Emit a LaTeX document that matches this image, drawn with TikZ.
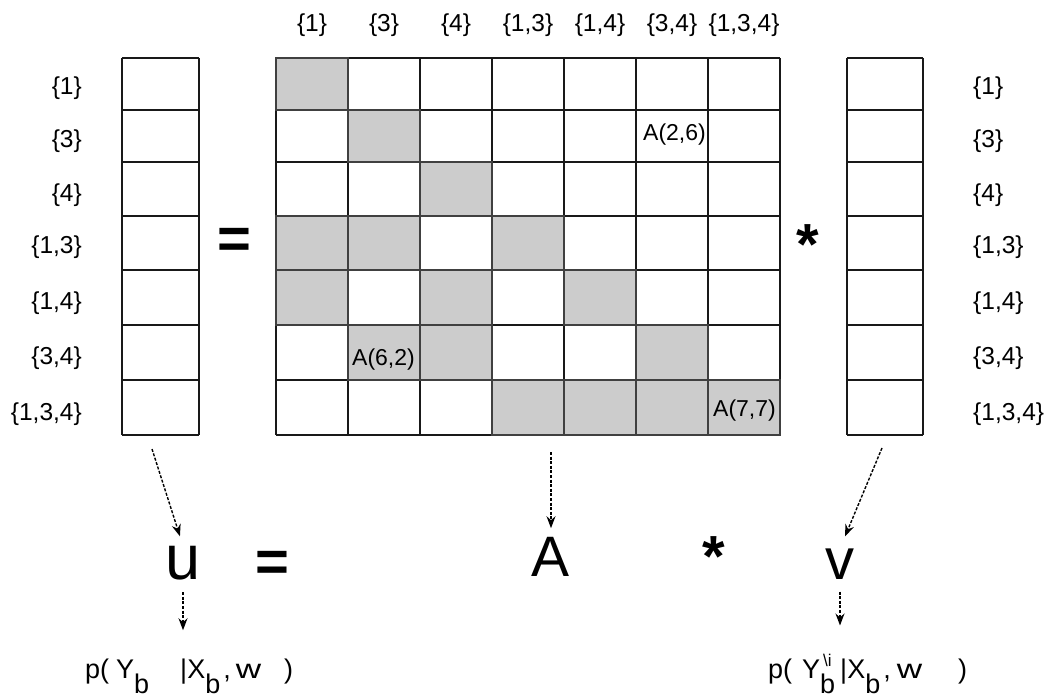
\documentclass[tikz,border=0pt]{standalone}
\usepackage{fontspec}
\usepackage{graphicx}
\setmainfont{Liberation Sans}
\usetikzlibrary{arrows.meta}
\newcommand{\lowb}{\raisebox{-15pt}{b}}
\newcommand{\wideW}{\scalebox{1.3}[1]{w}}
\begin{document}
\begin{tikzpicture}[x=1pt,y=-1pt,
  gridline/.style={line width=1.4pt, draw=black!90},
  lab/.style={font=\fontsize{24.5}{24.5}\selectfont, inner sep=0pt},
  celltext/.style={font=\fontsize{23}{23}\selectfont, inner sep=0pt, anchor=base west},
  big/.style={inner sep=0pt},
  opeq/.style={font=\fontsize{58}{58}\selectfont\bfseries, inner sep=0pt},
  opstar/.style={font=\fontsize{58}{58}\selectfont\bfseries, inner sep=0pt},
  formula/.style={font=\fontsize{27}{27}\selectfont, inner sep=0pt, anchor=base west},
  dasharrow/.style={dash pattern=on 3pt off 1.6pt, line width=1.4pt, -{Stealth[length=12pt,width=9pt,inset=4pt]}},
]
\fill[white] (0,0) rectangle (1052,700);
\useasboundingbox (0,0) rectangle (1052,700);
\def\ry{{58,110,162,216,270,325,380,435}}
% shaded cells
\foreach \r/\c in {1/1,2/2,3/3,4/1,4/2,4/4,5/1,5/3,5/5,6/2,6/3,6/6,7/4,7/5,7/6,7/7}{
  \pgfmathsetmacro{\ya}{\ry[\r-1]}
  \pgfmathsetmacro{\yb}{\ry[\r]}
  \fill[gray!40] (276+72*\c-72,\ya) rectangle (276+72*\c,\yb);
}
% matrix grid
\foreach \i in {0,...,7}{
  \draw[gridline] (276+72*\i,58) -- (276+72*\i,435);
}
\foreach \y in {58,110,162,216,270,325,380,435}{
  \draw[gridline] (276,\y) -- (780,\y);
  \draw[gridline] (122,\y) -- (199,\y);
  \draw[gridline] (847,\y) -- (923,\y);
}
\draw[gridline] (122,58) -- (122,435);
\draw[gridline] (199,58) -- (199,435);
\draw[gridline] (847,58) -- (847,435);
\draw[gridline] (923,58) -- (923,435);
% shaded outlines
\foreach \r/\c in {1/1,2/2,3/3,4/1,4/2,4/4,5/1,5/3,5/5,6/2,6/3,6/6,7/4,7/5,7/6,7/7}{
  \pgfmathsetmacro{\ya}{\ry[\r-1]}
  \pgfmathsetmacro{\yb}{\ry[\r]}
  \draw[draw=black!75, line width=1.7pt] (276+72*\c-72,\ya) rectangle (276+72*\c,\yb);
}
% labels
\foreach \t/\y [count=\k] in {{\{1\}}/88,{\{3\}}/141,{\{4\}}/195,{\{1,3\}}/247,{\{1,4\}}/303,{\{3,4\}}/358,{\{1,3,4\}}/414}{
  \node[lab, anchor=east] (l\k) at (82,\y) {\t};
  \node[lab, anchor=west] (r\k) at (973,\y) {\t};
}
\foreach \t [count=\k] in {{\{1\}},{\{3\}},{\{4\}},{\{1,3\}},{\{1,4\}},{\{3,4\}},{\{1,3,4\}}}{
  \node[lab] (t\k) at (276+72*\k-36,25) {\t};
}
% cell texts
\node[celltext] (a26) at (643,141) {A(2,6)};
\node[celltext] (a62) at (352,366) {A(6,2)};
\node[celltext] (a77) at (713,417) {A(7,7)};
% operators
\node[opeq] (eq1) at (234,243) {=};
\node[opstar] (st1) at (808,245) {*};
% bottom equation
\node[big, font=\fontsize{63}{63}\selectfont] (u) at (183,563) {u};
\node[opeq] (eq2) at (272,566) {=};
\node[big, font=\fontsize{57}{57}\selectfont] (A) at (551,557) {A};
\node[opstar] (st2) at (714,557) {*};
\node[big, font=\fontsize{58}{58}\selectfont] (v) at (840,564) {v};
\node[formula] (pu) at (85,678) {p(\hspace{7pt}Y\lowb\hspace{31pt}|X\lowb\hspace{3pt},\hspace{5pt}\wideW\hspace{23pt})};
\node[formula] (pv) at (768,678) {p(\hspace{10pt}Y\rlap{\hspace{3pt}\raisebox{12pt}{\fontsize{17}{17}\selectfont\textbackslash i}}\lowb\hspace{5pt}|X\lowb\hspace{3pt},\hspace{6pt}\wideW\hspace{36pt})};
% arrow tails
\coordinate (lvt) at (152,449);
\coordinate (mt) at (551,452);
\coordinate (rvt) at (882,448);
\draw[dasharrow, shorten >=10pt] (lvt) -- (u.north);
\draw[dasharrow, shorten >=9pt] (mt) -- (A.north);
\draw[dasharrow, shorten >=13pt] (rvt) -- (v.north);
\draw[dasharrow, shorten <=12pt, shorten >=28pt] (u.south) -- (u.south |- pu.north);
\draw[dasharrow, shorten <=12pt, shorten >=28pt] (v.south) -- (v.south |- pv.north);
\end{tikzpicture}
\end{document}
